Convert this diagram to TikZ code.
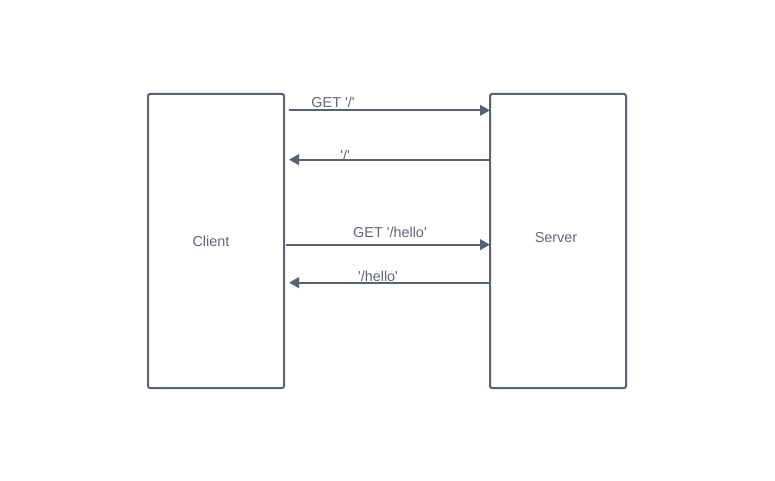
\documentclass[tikz,border=0pt]{standalone}
\usepackage{fontspec}
\setmainfont{Liberation Sans}
\usepackage{tikz}
\usetikzlibrary{arrows.meta,positioning}
\definecolor{linegray}{RGB}{90,97,113}
\definecolor{textgray}{RGB}{95,102,117}
\newcommand{\sq}{\textquotesingle}
\tikzstyle{party}=[
	draw=linegray,
	line width=1.5pt,
	rounded corners=1.5pt,
	minimum width=102pt,
	minimum height=220.5pt,
	inner sep=0pt,
	text=textgray,
	font=\fontsize{10.5}{12}\selectfont
]
\tikzstyle{msg}=[
	draw=linegray,
	line width=1.6pt,
	-{Triangle[length=7.5pt,width=8pt]}
]
\tikzstyle{label}=[
	text=textgray,
	inner sep=0pt,
	font=\fontsize{10.8}{12}\selectfont
]

\begin{document}
\begin{tikzpicture}[x=0.75pt,y=-0.75pt]
\useasboundingbox (0,0) rectangle (775,481);
\node[party] (client) at (216,241) {};
\node[party] (server) at (558,241) {};
\node[label] (clienttxt) at (211,241) {Client};
\node[label] (servertxt) at (556,238) {Server};

\draw[msg] ([xshift=3pt,yshift=-13pt]client.north east) -- ([xshift=0.75pt,yshift=-13pt]server.north west);
\draw[msg] ([yshift=-50pt]server.north west) -- ([xshift=3pt,yshift=-50pt]client.north east);
\draw[msg] ([xshift=0.75pt,yshift=-113.75pt]client.north east) -- ([xshift=0.75pt,yshift=-113.75pt]server.north west);
\draw[msg] ([yshift=-142.25pt]server.north west) -- ([xshift=3pt,yshift=-142.25pt]client.north east);

\node[label] (get1) at (333,102) {GET \sq/\sq};
\node[label] (ret1) at (345,155) {\sq/\sq};
\node[label] (get2) at (390,232) {GET \sq/hello\sq};
\node[label] (ret2) at (378,276) {\sq/hello\sq};
\end{tikzpicture}
\end{document}
